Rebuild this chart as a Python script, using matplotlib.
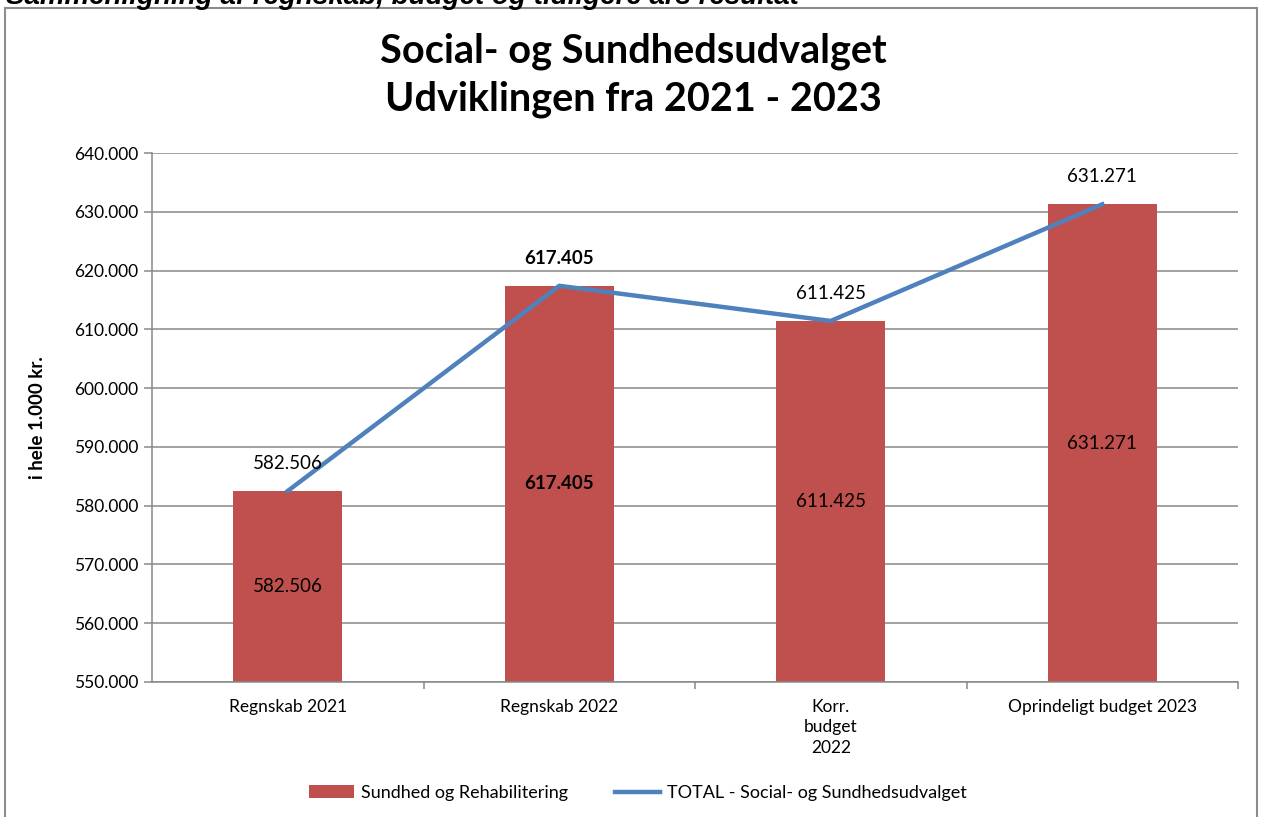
import matplotlib.pyplot as plt
from matplotlib.patches import Rectangle
from matplotlib.ticker import FuncFormatter

plt.rcParams['font.family'] = ['Lato', 'DejaVu Sans']

# data (i hele 1.000 kr.)
categories = ['Regnskab 2021', 'Regnskab 2022', 'Korr.\nbudget\n2022', 'Oprindeligt budget 2023']
sundhed = [582506, 617405, 611425, 631271]
total = [582506, 617405, 611425, 631271]
bold_labels = [False, True, False, False]

bar_color = '#C0504D'
line_color = '#4F81BD'
grid_color = '#878787'


def dk(v, pos=None):
    return f"{int(v):,}".replace(',', '.')


fig = plt.figure(figsize=(12.63, 8.17), dpi=100)

# ramme rundt om diagrammet
fig.patches.append(Rectangle((5 / 1263, -0.01), 1252 / 1263, 1 - 8 / 817 + 0.01,
                             transform=fig.transFigure, fill=False,
                             edgecolor='#8c8c8c', linewidth=1.5))

# afskaaret overskrift i toppen
fig.text(6 / 1263, 1 - 4 / 817, 'Sammenligning af regnskab, budget og tidligere års resultat',
         fontsize=20, fontweight='bold', fontstyle='italic', family='Liberation Sans',
         va='baseline', ha='left')

ax = fig.add_axes([152 / 1263, 1 - 682 / 817, (1238 - 152) / 1263, (682 - 153) / 817])

x = range(len(categories))
bars = ax.bar(x, sundhed, width=0.4, color=bar_color, zorder=2,
              label='Sundhed og Rehabilitering')
line, = ax.plot(x, total, color=line_color, linewidth=3.2, zorder=3,
                label='TOTAL - Social- og Sundhedsudvalget')

ymin, ymax = 550000, 640000
ax.set_ylim(ymin, ymax)
ax.set_xlim(-0.5, len(categories) - 0.5)
ax.set_yticks(range(ymin, ymax + 1, 10000))
ax.yaxis.set_major_formatter(FuncFormatter(dk))

# labels
for i, (s, t) in enumerate(zip(sundhed, total)):
    fw = 'bold' if bold_labels[i] else 'normal'
    ax.text(i, (ymin + s) / 2, dk(s), ha='center', va='center', fontsize=13.5,
            fontweight=fw, zorder=4)
    ax.annotate(dk(t), (i, t), xytext=(0, 20), textcoords='offset points',
                ha='center', va='center', fontsize=13.5, fontweight=fw, zorder=4)

ax.grid(axis='y', color=grid_color, linewidth=1.1, zorder=0)
for side in ['top', 'right']:
    ax.spines[side].set_visible(False)
for side in ['left', 'bottom']:
    ax.spines[side].set_color(grid_color)
    ax.spines[side].set_linewidth(1.1)

ax.set_xticks([i + 0.5 for i in range(len(categories) - 1)] + [len(categories) - 0.5], minor=False)
ax.set_xticklabels([])
ax.set_xticks(list(x), minor=True)
ax.set_xticklabels(categories, minor=True, fontsize=12.5, linespacing=1.35, va='top')
ax.tick_params(axis='x', which='minor', length=0, pad=12)
ax.tick_params(axis='x', which='major', length=5, color=grid_color, width=1.1)
ax.tick_params(axis='y', length=6, color=grid_color, width=1.1, labelsize=12.5, pad=4)

ax.set_ylabel('i hele 1.000 kr.', fontsize=13.5, fontweight='bold', labelpad=20)

fig.suptitle('Social- og Sundhedsudvalget\nUdviklingen fra 2021 - 2023', x=633 / 1263,
             y=1 - 32 / 817, va='top', fontsize=28.5, fontweight='bold', linespacing=1.35)

ax.legend(handles=[bars, line], loc='center', bbox_to_anchor=(638 / 1263, 1 - 793 / 817),
          bbox_transform=fig.transFigure, ncol=2, frameon=False, fontsize=13,
          handlelength=2.5, columnspacing=2.6, handletextpad=0.4)

plt.savefig('out.png', dpi=100)
